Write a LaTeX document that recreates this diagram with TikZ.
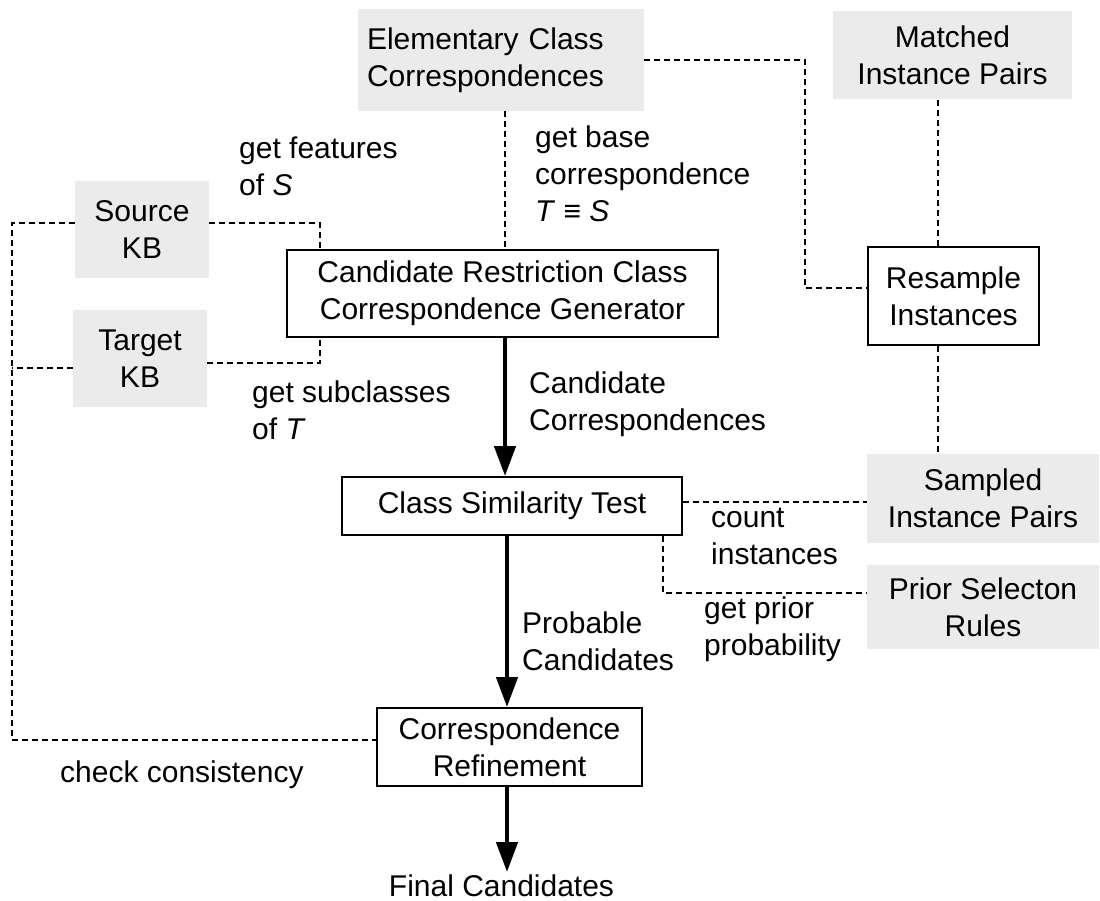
\documentclass[tikz,border=0pt]{standalone}
\usepackage{fontspec}
\setmainfont{Liberation Sans}
\usetikzlibrary{arrows.meta,calc}
\definecolor{boxgray}{RGB}{235,235,235}
\begin{document}
\begin{tikzpicture}[x=1pt,y=-1pt,
  every node/.style={font=\fontsize{30}{37}\selectfont},
  wbox/.style={draw, line width=2pt, inner sep=0pt, align=center},
  gbox/.style={fill=boxgray, inner sep=0pt, align=center},
  lbl/.style={anchor=north west, inner sep=0pt, align=left},
  dl/.style={line width=1.9pt, dash pattern=on 6pt off 4pt},
  arr/.style={line width=4.5pt, -{Triangle[width=21pt,length=30pt]}}]
\useasboundingbox (0,0) rectangle (1100,901);

% boxes
\node[gbox, minimum width=134pt, minimum height=97pt] (src) at (142,229.5) {Source\\KB};
\node[gbox, minimum width=134pt, minimum height=97pt] (tgt) at (140,358.5) {Target\\KB};
\node[gbox, minimum width=286pt, minimum height=102pt, text width=268pt, inner xsep=9pt, align=left] (elem) at (501,60) {Elementary Class\\Correspondences};
\node[gbox, minimum width=239pt, minimum height=88pt] (match) at (952.5,55) {Matched\\Instance Pairs};
\node[wbox, minimum width=431pt, minimum height=87pt] (gen) at (502.5,293.5) {Candidate Restriction Class\\Correspondence Generator};
\node[wbox, minimum width=171pt, minimum height=98pt] (resamp) at (953.5,296) {Resample\\Instances};
\node[wbox, minimum width=340pt, minimum height=58pt] (cst) at (512,506) {Class Similarity Test};
\node[gbox, minimum width=232pt, minimum height=89pt] (samp) at (983,498.5) {Sampled\\Instance Pairs};
\node[gbox, minimum width=232pt, minimum height=84pt] (prior) at (983,607) {Prior Selecton\\Rules};
\node[wbox, minimum width=265pt, minimum height=78pt] (refine) at (509.5,747) {Correspondence\\Refinement};
\node[inner sep=2pt, anchor=base] (final) at (501.5,896) {Final Candidates};

% dashed connectors
\coordinate (k1) at (805,60);
\draw[dl] (elem.east) -- (k1) |- ([yshift=8pt]resamp.west);
\draw[dl] ([xshift=-15.5pt]resamp.north) -- ([xshift=-15.5pt]resamp.north |- match.south);
\draw[dl] ([xshift=-15.5pt]resamp.south) -- ([xshift=-15.5pt]resamp.south |- samp.north);
\draw[dl] ([xshift=4pt]elem.south) -- ([xshift=4pt]elem.south |- gen.north);
\coordinate (k2) at (320,223);
\draw[dl] ([yshift=6.5pt]src.east) -- (k2) -- (k2 |- gen.north);
\coordinate (k3) at (320,363);
\draw[dl] ([yshift=-4.5pt]tgt.east) -- (k3) -- (k3 |- gen.south);
\coordinate (k4) at (12,223);
\draw[dl] ([yshift=6.5pt]src.west) -- (k4) |- ([yshift=7pt]refine.west);
\coordinate (k5) at (12,368);
\draw[dl] ([yshift=-9.5pt]tgt.west) -- (k5);
\draw[dl] ([yshift=4pt]cst.east) -- ([yshift=4pt]cst.east -| samp.west);
\coordinate (k6) at (663,593);
\draw[dl] (k6 |- cst.south) -- (k6) -- (k6 -| prior.west);

% thick arrows
\draw[arr] ([xshift=2.5pt]gen.south) -- ([xshift=2.5pt]gen.south |- cst.north);
\draw[arr] ([xshift=-5pt]cst.south) -- ([xshift=-5pt]cst.south |- refine.north);
\draw[arr] ([xshift=-2.5pt]refine.south) -- ([xshift=-2.5pt]refine.south |- final.north);

% labels
\node[lbl] (l1) at (239,136.5) {get features\\of \textit{S}};
\node[lbl] (l2) at (535,125.5) {get base\\correspondence\\\textit{T} ≡ \textit{S}};
\node[lbl] (l3) at (252,380.5) {get subclasses\\of \textit{T}};
\node[lbl] (l4) at (529,371.5) {Candidate\\Correspondences};
\node[lbl] (l5) at (711,508) {count\\instances};
\node[lbl] (l6) at (704,596.5) {get prior\\probability};
\node[lbl] (l7) at (522,611.5) {Probable\\Candidates};
\node[lbl] (l8) at (60,760.5) {check consistency};
\end{tikzpicture}
\end{document}
